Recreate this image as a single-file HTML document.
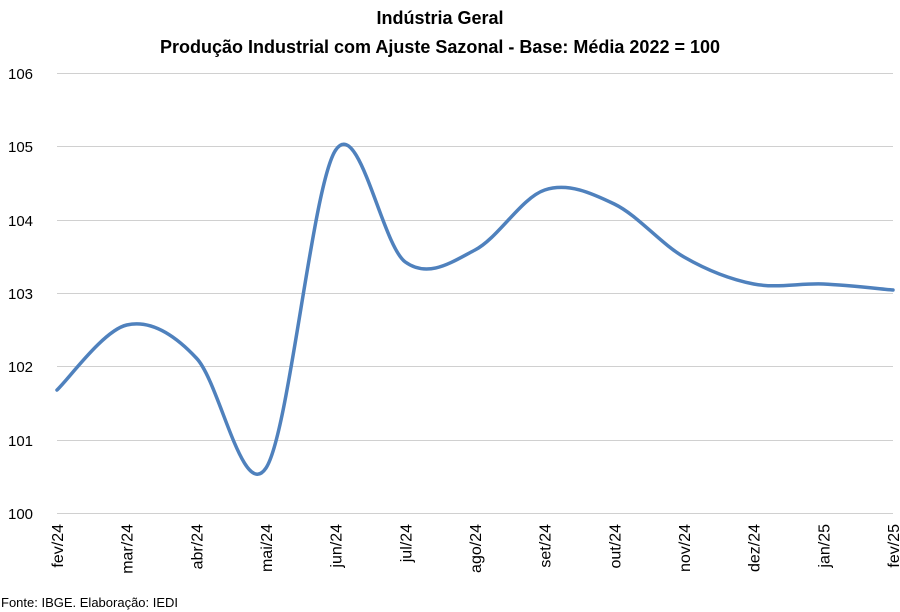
<!DOCTYPE html>
<html><head><meta charset="utf-8"><style>
body{margin:0;background:#fff;}
svg{display:block;font-family:"Liberation Sans",Calibri,sans-serif;}
</style></head><body>
<svg width="900" height="612" viewBox="0 0 900 612">
<rect width="900" height="612" fill="#fff"/>
<text x="440" y="24" text-anchor="middle" font-size="18" font-weight="bold" fill="#000">Indústria Geral</text>
<text x="440" y="53" text-anchor="middle" font-size="18" font-weight="bold" fill="#000">Produção Industrial com Ajuste Sazonal - Base: Média 2022 = 100</text>
<g stroke="#d0d0d0" stroke-width="1">
<line x1="57" y1="73.5" x2="893" y2="73.5"/>
<line x1="57" y1="146.5" x2="893" y2="146.5"/>
<line x1="57" y1="220.5" x2="893" y2="220.5"/>
<line x1="57" y1="293.5" x2="893" y2="293.5"/>
<line x1="57" y1="366.5" x2="893" y2="366.5"/>
<line x1="57" y1="440.5" x2="893" y2="440.5"/>
<line x1="57" y1="513.5" x2="893" y2="513.5"/>
</g>
<g font-size="15" fill="#000" text-anchor="start">
<text x="8" y="79">106</text>
<text x="8" y="152">105</text>
<text x="8" y="226">104</text>
<text x="8" y="299">103</text>
<text x="8" y="372">102</text>
<text x="8" y="446">101</text>
<text x="8" y="519">100</text>
</g>
<g font-size="16" fill="#000" text-anchor="end">
<text transform="translate(63,524) rotate(-90)">fev/24</text>
<text transform="translate(132.7,524) rotate(-90)">mar/24</text>
<text transform="translate(202.3,524) rotate(-90)">abr/24</text>
<text transform="translate(272,524) rotate(-90)">mai/24</text>
<text transform="translate(341.7,524) rotate(-90)">jun/24</text>
<text transform="translate(411.3,524) rotate(-90)">jul/24</text>
<text transform="translate(481,524) rotate(-90)">ago/24</text>
<text transform="translate(550.7,524) rotate(-90)">set/24</text>
<text transform="translate(620.3,524) rotate(-90)">out/24</text>
<text transform="translate(690,524) rotate(-90)">nov/24</text>
<text transform="translate(759.7,524) rotate(-90)">dez/24</text>
<text transform="translate(829.3,524) rotate(-90)">jan/25</text>
<text transform="translate(899,524) rotate(-90)">fev/25</text>
</g>
<path fill="none" stroke="#4f81bd" stroke-width="3.5" stroke-linejoin="round" stroke-linecap="round"
d="M57,390 C68.6,379.2 103.5,330.3 126.7,325 C149.9,319.7 173.1,333.2 196.3,358 C219.5,381.8 242.8,502.7 266,468 C289.2,433.3 312.5,184.3 335.7,150 C358.9,115.7 382.1,245.3 405.3,262 C428.5,278.7 451.8,262 475,250 C498.2,238 521.5,197.7 544.7,190 C567.9,182.3 591.1,192.8 614.3,204 C637.5,215.2 660.8,243.7 684,257 C707.2,270.3 730.5,279.5 753.7,284 C776.9,288.5 800.1,283 823.3,284 C846.5,285 881.4,289 893,290"/>
<text x="1" y="607" font-size="13" fill="#000">Fonte: IBGE. Elaboração: IEDI</text>
</svg>
</body></html>
